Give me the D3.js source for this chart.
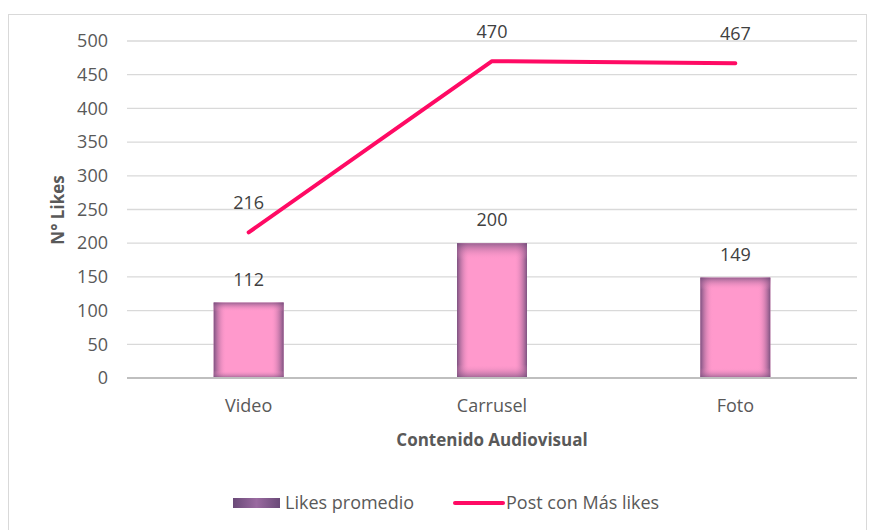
<!DOCTYPE html>
<html>
<head>
<meta charset="utf-8">
<script src="https://cdn.jsdelivr.net/npm/d3@7"></script>
<style>
  body { margin: 0; background: #fff; }
  text { font-family: "Open Sans", "Noto Sans", sans-serif; }
</style>
</head>
<body>
<div id="graph"></div>
<script>
// data
let categories = ["Video", "Carrusel", "Foto"];
let likesPromedio = [112, 200, 149];
let postMasLikes = [216, 470, 467];
let yTicks = [0, 50, 100, 150, 200, 250, 300, 350, 400, 450, 500];

let svgWidth = 871, svgHeight = 530;
let margin = { top: 41, right: 14, bottom: 152, left: 127 };
let width = svgWidth - margin.left - margin.right;
let height = svgHeight - margin.top - margin.bottom;
let fs = "18px";

let svg = d3.select("#graph")
  .append("svg")
  .attr("width", svgWidth)
  .attr("height", svgHeight);

// outer frame
svg.append("rect")
  .attr("x", 8.5).attr("y", 14.5)
  .attr("width", 858).attr("height", 520)
  .attr("fill", "none")
  .attr("stroke", "#d9d9d9")
  .attr("stroke-width", 1);

let defs = svg.append("defs");
// bar shading: pink with purple edges
let gh = defs.append("linearGradient").attr("id", "edgeH");
gh.append("stop").attr("offset", "0%").attr("stop-color", "#6e4a78").attr("stop-opacity", 0.9);
gh.append("stop").attr("offset", "18%").attr("stop-color", "#ff99cc").attr("stop-opacity", 0);
gh.append("stop").attr("offset", "82%").attr("stop-color", "#ff99cc").attr("stop-opacity", 0);
gh.append("stop").attr("offset", "100%").attr("stop-color", "#6e4a78").attr("stop-opacity", 0.9);
let gv = defs.append("linearGradient").attr("id", "edgeV")
  .attr("x1", 0).attr("y1", 0).attr("x2", 0).attr("y2", 1);
gv.append("stop").attr("offset", "0%").attr("stop-color", "#6e4a78").attr("stop-opacity", 0.7);
gv.append("stop").attr("offset", "12%").attr("stop-color", "#ff99cc").attr("stop-opacity", 0);
gv.append("stop").attr("offset", "90%").attr("stop-color", "#ff99cc").attr("stop-opacity", 0);
gv.append("stop").attr("offset", "100%").attr("stop-color", "#6e4a78").attr("stop-opacity", 0.7);
let gl = defs.append("linearGradient").attr("id", "legendSwatch");
gl.append("stop").attr("offset", "0%").attr("stop-color", "#6a4a78");
gl.append("stop").attr("offset", "50%").attr("stop-color", "#9a6aa0");
gl.append("stop").attr("offset", "100%").attr("stop-color", "#6a4a78");

let chartGroup = svg.append("g")
  .attr("transform", `translate(${margin.left},${margin.top})`);

let xScale = d3.scaleBand().domain(categories).range([0, width]);
let yScale = d3.scaleLinear().domain([0, 500]).range([height, 0]);

// gridlines
chartGroup.selectAll(".grid")
  .data(yTicks.filter(d => d > 0))
  .enter().append("line")
  .attr("x1", 0).attr("x2", width)
  .attr("y1", d => yScale(d)).attr("y2", d => yScale(d))
  .attr("stroke", "#d9d9d9").attr("stroke-width", 1.3);

// y axis labels
let yAxis = d3.axisLeft(yScale).tickValues(yTicks).tickSize(0).tickPadding(19);
let yg = chartGroup.append("g").call(yAxis);
yg.select(".domain").remove();
yg.selectAll("text")
  .style("font-size", fs).style("fill", "#595959")
  .style("font-family", "'Open Sans', sans-serif");

// bars
let barW = 70;
let bars = chartGroup.selectAll(".bar")
  .data(categories)
  .enter().append("g");
["#ff99cc", "url(#edgeH)", "url(#edgeV)"].forEach(function (f) {
  bars.append("rect")
    .attr("x", d => xScale(d) + xScale.bandwidth() / 2 - barW / 2)
    .attr("y", (d, i) => yScale(likesPromedio[i]))
    .attr("width", barW)
    .attr("height", (d, i) => height - yScale(likesPromedio[i]))
    .attr("fill", f);
});

// x axis baseline
chartGroup.append("line")
  .attr("x1", 0).attr("x2", width)
  .attr("y1", height).attr("y2", height)
  .attr("stroke", "#bfbfbf").attr("stroke-width", 2.2);

// x axis labels
let xAxis = d3.axisBottom(xScale).tickSize(0).tickPadding(21);
let xg = chartGroup.append("g").attr("transform", `translate(0,${height})`).call(xAxis);
xg.select(".domain").remove();
xg.selectAll("text")
  .style("font-size", fs).style("fill", "#595959")
  .style("font-family", "'Open Sans', sans-serif");

// bar value labels
chartGroup.selectAll(".barlabel")
  .data(categories)
  .enter().append("text")
  .attr("x", d => xScale(d) + xScale.bandwidth() / 2)
  .attr("y", (d, i) => yScale(likesPromedio[i]) - 17)
  .attr("text-anchor", "middle")
  .style("font-size", fs).style("fill", "#404040")
  .text((d, i) => likesPromedio[i]);

// line
let line = d3.line()
  .x(d => xScale(d.c) + xScale.bandwidth() / 2)
  .y(d => yScale(d.v));
let lineData = categories.map((c, i) => ({ c: c, v: postMasLikes[i] }));
chartGroup.append("path")
  .datum(lineData)
  .attr("d", line)
  .attr("fill", "none")
  .attr("stroke", "#ff0a64")
  .attr("stroke-width", 4)
  .attr("stroke-linecap", "round")
  .attr("stroke-linejoin", "round");

chartGroup.selectAll(".linelabel")
  .data(lineData)
  .enter().append("text")
  .attr("x", d => xScale(d.c) + xScale.bandwidth() / 2)
  .attr("y", d => yScale(d.v) - 23)
  .attr("text-anchor", "middle")
  .style("font-size", fs).style("fill", "#404040")
  .text(d => d.v);

// axis titles
svg.append("text")
  .attr("transform", "rotate(-90)")
  .attr("x", -210).attr("y", 64)
  .attr("text-anchor", "middle")
  .style("font-size", "17px").style("font-weight", "bold").style("fill", "#595959")
  .text("N° Likes");

svg.append("text")
  .attr("x", margin.left + width / 2).attr("y", 446)
  .attr("text-anchor", "middle")
  .style("font-size", "17px").style("font-weight", "bold").style("fill", "#595959")
  .text("Contenido Audiovisual");

// legend
let legend = svg.append("g");
legend.append("rect")
  .attr("x", 233).attr("y", 498).attr("width", 47).attr("height", 10)
  .attr("fill", "url(#legendSwatch)");
legend.append("text")
  .attr("x", 285).attr("y", 509)
  .style("font-size", fs).style("fill", "#595959")
  .text("Likes promedio");
legend.append("line")
  .attr("x1", 455).attr("x2", 503).attr("y1", 503).attr("y2", 503)
  .attr("stroke", "#ff0a64").attr("stroke-width", 4).attr("stroke-linecap", "round");
legend.append("text")
  .attr("x", 506).attr("y", 509)
  .style("font-size", fs).style("fill", "#595959")
  .text("Post con Más likes");
</script>
</body>
</html>
